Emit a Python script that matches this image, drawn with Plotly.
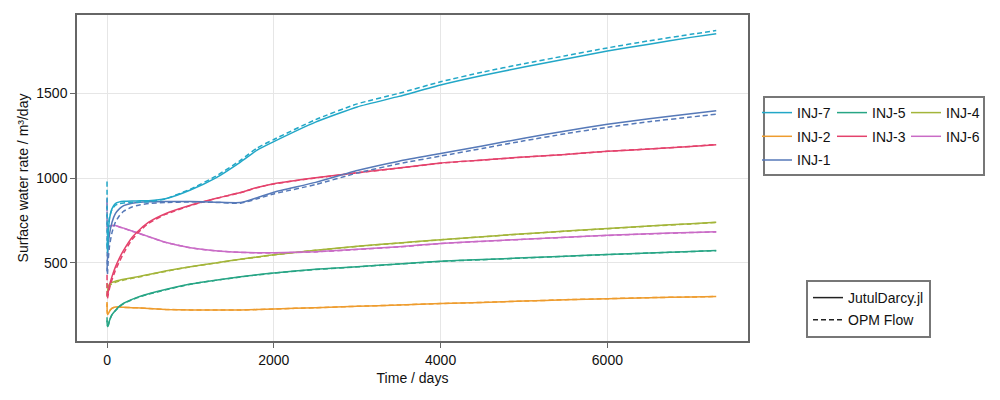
import plotly.graph_objects as go

# ---- data ----
time_days = [0, 5, 15, 30, 60, 100, 150, 200, 300, 400, 500, 700, 1000, 1300, 1600, 1800,
             2000, 2500, 3000, 3500, 4000, 4500, 5000, 5500, 6000, 6500, 7000, 7305]

wells = ["INJ-7", "INJ-2", "INJ-1", "INJ-5", "INJ-3", "INJ-4", "INJ-6"]

jutul_inj7 = [620, 560, 680, 760, 820, 850, 860, 863, 865, 866, 867, 878, 930, 1000, 1095, 1165,
              1215, 1330, 1420, 1482, 1549, 1605, 1655, 1703, 1750, 1790, 1830, 1852]
opm_inj7 = [980, 600, 700, 770, 815, 840, 850, 854, 857, 859, 861, 878, 935, 1010, 1105, 1178,
            1228, 1345, 1438, 1500, 1568, 1625, 1675, 1722, 1768, 1810, 1848, 1870]

jutul_inj1 = [450, 520, 600, 670, 740, 790, 820, 838, 852, 858, 860, 862, 862, 858, 856, 885,
              917, 975, 1045, 1100, 1145, 1190, 1235, 1278, 1318, 1350, 1380, 1398]
opm_inj1 = [850, 430, 520, 600, 680, 740, 780, 805, 830, 843, 850, 856, 860, 857, 852, 878,
            907, 962, 1030, 1085, 1130, 1175, 1220, 1262, 1300, 1333, 1360, 1377]

jutul_inj3 = [320, 300, 330, 370, 420, 475, 530, 575, 650, 700, 740, 790, 840, 880, 915, 945,
              967, 1002, 1032, 1060, 1089, 1107, 1125, 1140, 1158, 1172, 1187, 1197]
opm_inj3 = [430, 290, 315, 350, 400, 455, 510, 558, 638, 692, 734, 786, 838, 879, 914, 944,
            966, 1001, 1031, 1059, 1088, 1106, 1124, 1140, 1158, 1172, 1187, 1198]

jutul_inj6 = [720, 712, 715, 718, 721, 720, 712, 705, 688, 672, 655, 622, 590, 572, 563, 560,
              560, 566, 580, 595, 615, 628, 640, 652, 663, 672, 680, 684]
opm_inj6 = [880, 705, 712, 716, 720, 719, 712, 704, 687, 671, 654, 621, 589, 571, 562, 559,
            559, 565, 579, 594, 614, 627, 639, 651, 662, 671, 679, 683]

jutul_inj4 = [300, 330, 360, 375, 385, 392, 398, 403, 412, 422, 432, 452, 478, 500, 522, 535,
              548, 575, 598, 618, 637, 655, 672, 688, 703, 718, 731, 740]
opm_inj4 = [380, 320, 350, 365, 377, 386, 393, 399, 409, 419, 430, 450, 477, 499, 521, 534,
            547, 574, 597, 617, 636, 654, 671, 687, 702, 717, 730, 739]

jutul_inj5 = [160, 125, 130, 160, 195, 220, 245, 262, 285, 303, 318, 343, 375, 398, 418, 430,
              441, 462, 478, 494, 510, 520, 530, 540, 550, 558, 567, 573]
opm_inj5 = [180, 130, 135, 162, 195, 218, 243, 260, 283, 301, 316, 341, 374, 397, 417, 429,
            440, 461, 477, 493, 509, 519, 529, 539, 549, 558, 567, 572]

jutul_inj2 = [260, 195, 200, 215, 232, 240, 240, 238, 236, 234, 231, 226, 223, 222, 222, 225,
              228, 236, 244, 252, 260, 267, 275, 283, 289, 295, 299, 302]
opm_inj2 = [270, 200, 205, 218, 233, 240, 240, 238, 236, 234, 231, 226, 223, 222, 222, 225,
            228, 236, 244, 252, 260, 267, 275, 283, 289, 295, 299, 302]

x_ticks = [0, 2000, 4000, 6000]
y_ticks = [500, 1000, 1500]

# ---- styling ----
colors = {
    "INJ-7": "#22a7c7",
    "INJ-2": "#ee9c2e",
    "INJ-1": "#5679b8",
    "INJ-5": "#27a585",
    "INJ-3": "#e4426c",
    "INJ-4": "#a3b53a",
    "INJ-6": "#c96bc6",
}
legend_of = {
    "INJ-7": "legend", "INJ-2": "legend", "INJ-1": "legend",
    "INJ-5": "legend2", "INJ-3": "legend2",
    "INJ-4": "legend3", "INJ-6": "legend3",
}
series = {
    "INJ-7": (jutul_inj7, opm_inj7),
    "INJ-2": (jutul_inj2, opm_inj2),
    "INJ-1": (jutul_inj1, opm_inj1),
    "INJ-5": (jutul_inj5, opm_inj5),
    "INJ-3": (jutul_inj3, opm_inj3),
    "INJ-4": (jutul_inj4, opm_inj4),
    "INJ-6": (jutul_inj6, opm_inj6),
}
draw_order = ["INJ-2", "INJ-5", "INJ-4", "INJ-6", "INJ-3", "INJ-1", "INJ-7"]

FONT = "Liberation Sans, Arial, sans-serif"
FRAME = "#666666"

fig = go.Figure()

for w in draw_order:
    jv, ov = series[w]
    fig.add_trace(go.Scatter(x=time_days, y=ov, mode="lines", name=w, showlegend=False,
                             line=dict(color=colors[w], width=1.5, dash="5px,3px",
                                       shape="spline", smoothing=0.5)))
    fig.add_trace(go.Scatter(x=time_days, y=jv, mode="lines", name=w, showlegend=False,
                             line=dict(color=colors[w], width=1.5, shape="spline", smoothing=0.5)))

# legend entries for wells (solid line samples), ordered by column
for w in wells:
    fig.add_trace(go.Scatter(x=[None], y=[None], mode="lines", name=w,
                             legend=legend_of[w], legendgroup=w,
                             line=dict(color=colors[w], width=1.5)))

# legend entries for simulators
fig.add_trace(go.Scatter(x=[None], y=[None], mode="lines", name="JutulDarcy.jl",
                         legend="legend4", legendgroup="jutul",
                         line=dict(color="#222222", width=1.5)))
fig.add_trace(go.Scatter(x=[None], y=[None], mode="lines", name="OPM Flow",
                         legend="legend4", legendgroup="opm",
                         line=dict(color="#222222", width=1.5, dash="5px,3px")))

# plot area in pixels: x 77..748, y 15..341
L, R, T, B = 77, 748, 15, 341
W, H = R - L, B - T

def px(xp):
    return (xp - L) / W

def py(yp):
    return (B - yp) / H

leg_common = dict(bgcolor="rgba(0,0,0,0)", borderwidth=0, font=dict(family=FONT, size=14, color="#111111"),
                  xanchor="left", yanchor="top", orientation="v", itemwidth=30, tracegroupgap=2.5,
                  itemclick=False, itemdoubleclick=False)

fig.update_layout(
    width=1000, height=400,
    margin=dict(l=L, r=1000 - R, t=T, b=400 - B, autoexpand=False),
    paper_bgcolor="white", plot_bgcolor="white",
    font=dict(family=FONT, size=14, color="#111111"),
    legend=dict(x=px(757), y=py(97), **leg_common),
    legend2=dict(x=px(832), y=py(97), **leg_common),
    legend3=dict(x=px(906), y=py(97), **leg_common),
    legend4=dict(x=px(806), y=py(280), bgcolor="white", bordercolor="#777777", borderwidth=2,
                 font=dict(family=FONT, size=14, color="#111111"),
                 xanchor="left", yanchor="top", orientation="v", itemwidth=30, tracegroupgap=1,
                 itemclick=False, itemdoubleclick=False),
    xaxis=dict(range=[-360, 7686], tickvals=x_ticks, ticks="outside", ticklen=5, tickwidth=1,
               tickcolor=FRAME, showline=True, linecolor=FRAME, linewidth=1.5, mirror=True,
               showgrid=True, gridcolor="#e6e6e6", gridwidth=1, zeroline=False, automargin=False,
               tickfont=dict(family=FONT, size=14, color="#111111"),
               title=dict(text="Time / days", font=dict(family=FONT, size=14), standoff=7)),
    yaxis=dict(range=[39.5, 1962], tickvals=y_ticks, ticks="outside", ticklen=5, tickwidth=1,
               tickcolor=FRAME, showline=True, linecolor=FRAME, linewidth=1.5, mirror=True,
               showgrid=True, gridcolor="#e6e6e6", gridwidth=1, zeroline=False, automargin=False,
               tickfont=dict(family=FONT, size=14, color="#111111"),
               title=dict(text="Surface water rate / m³/day", font=dict(family=FONT, size=14), standoff=4)),
    shapes=[dict(type="rect", xref="paper", yref="paper", x0=px(764), x1=px(984),
                 y0=py(175), y1=py(97), line=dict(color="#777777", width=2), fillcolor="rgba(0,0,0,0)",
                 layer="below")],
)

fig.write_html("out.html", config={"displayModeBar": False},
               post_script="document.body.style.margin='0px';")
